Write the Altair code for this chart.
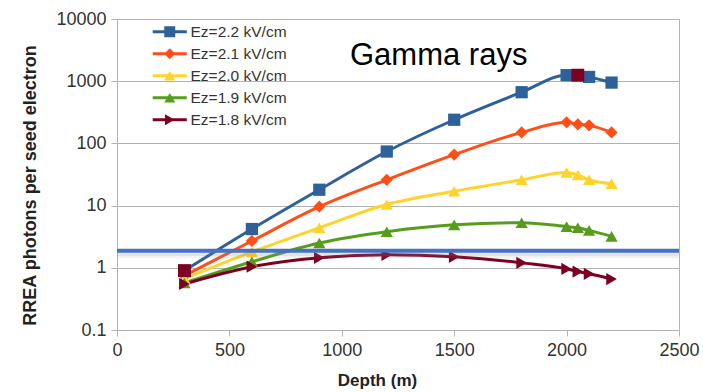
import altair as alt
import pandas as pd

depth = [300, 600, 900, 1200, 1500, 1800, 2000, 2050, 2100, 2200]
series_names = ["Ez=2.2 kV/cm", "Ez=2.1 kV/cm", "Ez=2.0 kV/cm", "Ez=1.9 kV/cm", "Ez=1.8 kV/cm"]
ez22 = [0.9, 4.2, 18, 74, 240, 665, 1250, 1250, 1170, 950]
ez21 = [0.75, 2.7, 9.6, 26, 66, 150, 218, 203, 195, 150]
ez20 = [0.67, 1.8, 4.4, 10.4, 17, 26, 34, 31, 26, 22.5]
ez19 = [0.57, 1.25, 2.5, 3.8, 4.9, 5.3, 4.6, 4.4, 4.0, 3.2]
ez18 = [0.55, 1.04, 1.45, 1.62, 1.5, 1.2, 0.96, 0.87, 0.8, 0.66]
all_values = [ez22, ez21, ez20, ez19, ez18]
colors = ["#2e6099", "#ff4f17", "#ffd42a", "#579d1c", "#7e0021"]
shapes = ["square", "diamond", "triangle-up", "triangle-up", "triangle-right"]
highlight_series = "Ez=2.2 kV/cm"
highlight_depths = [300, 2050]
highlight_color = "#7e0021"
threshold = 1.88
x_ticks = [0, 500, 1000, 1500, 2000, 2500]
y_ticks = [0.1, 1, 10, 100, 1000, 10000]

rows = []
for i, (name, vals) in enumerate(zip(series_names, all_values)):
    for d, v in zip(depth, vals):
        rows.append({"series": name, "series_b": name, "depth": d, "value": v})
df = pd.DataFrame(rows)
hl = df[(df.series == highlight_series) & (df.depth.isin(highlight_depths))]

FONT = "Liberation Sans"

x_enc = alt.X("depth:Q", scale=alt.Scale(domain=[0, 2500], nice=False),
              axis=alt.Axis(values=x_ticks, format="d", title="Depth (m)", grid=False,
                            labelFlush=False,
                            titleX=260, titleY=50, titleBaseline="middle",
                            titleFontSize=17, titleFontWeight="bold"))
y_enc = alt.Y("value:Q", scale=alt.Scale(type="log", domain=[0.1, 10000], nice=False),
              axis=alt.Axis(values=y_ticks, format="~g", title="RREA photons per seed electron",
                            labelFlush=False,
                            titleX=-87, titleY=166, titleBaseline="middle", titleAlign="center",
                            titleFontSize=18, titleFontWeight="bold"))

common_legend = dict(orient="none", title=None, direction="vertical", rowPadding=5, padding=0,
                     labelFontSize=15.5, labelColor="#333333", labelFont=FONT,
                     legendX=45, legendY=5, symbolSize=121, labelOffset=13)

line_legend = alt.Legend(symbolType="M-3.1,0L3.1,0", symbolStrokeWidth=3, zindex=0,
                         **common_legend)
shape_legend = alt.Legend(symbolStrokeWidth=0, labelOpacity=0, zindex=1, **common_legend)

base = alt.Chart(df)

lines = base.mark_line(strokeWidth=3, interpolate="monotone").encode(
    x=x_enc, y=y_enc,
    color=alt.Color("series:N", scale=alt.Scale(domain=series_names, range=colors),
                    legend=line_legend, sort=series_names),
    order="depth:Q",
)
points = base.mark_point(filled=True, opacity=1, size=150, strokeWidth=0).encode(
    x="depth:Q", y="value:Q",
    fill=alt.Fill("series_b:N", scale=alt.Scale(domain=series_names, range=colors),
                  legend=shape_legend, sort=series_names),
    shape=alt.Shape("series_b:N", scale=alt.Scale(domain=series_names, range=shapes),
                    legend=shape_legend, sort=series_names),
)
hl_points = alt.Chart(hl).mark_point(filled=True, opacity=1, size=165, shape="square",
                                     color=highlight_color, strokeWidth=0).encode(x="depth:Q", y="value:Q")

thr_df = pd.DataFrame({"value": [threshold]})
shadow2 = alt.Chart(thr_df).mark_rule(color="#888888", strokeWidth=3, opacity=0.12, yOffset=6).encode(y="value:Q")
shadow = alt.Chart(thr_df).mark_rule(color="#888888", strokeWidth=4, opacity=0.22, yOffset=3).encode(y="value:Q")
rule = alt.Chart(thr_df).mark_rule(color="#4472c4", strokeWidth=4).encode(y="value:Q")

title_text = alt.Chart(pd.DataFrame({"t": ["Gamma rays"]})).mark_text(
    align="left", baseline="alphabetic", fontSize=31, font=FONT, color="black"
).encode(x=alt.value(233), y=alt.value(46), text="t:N")

chart = alt.layer(lines, points, hl_points, shadow2, shadow, rule, title_text).resolve_scale(
    color="independent", fill="independent", shape="independent"
).properties(
    width=562, height=311,
    autosize=alt.AutoSizeParams(type="none"),
    padding={"left": 117, "top": 19, "right": 24, "bottom": 62},
).configure_view(
    stroke="#b3b3b3", strokeWidth=1
).configure_axis(
    labelFont=FONT, titleFont=FONT, labelFontSize=18, labelColor="#333333",
    titleColor="#222222", domainColor="#b3b3b3", tickColor="#b3b3b3",
    gridColor="#b3b3b3", tickSize=6, labelPadding=5,
)

chart.save("out.html", embed_options={"renderer": "svg", "actions": False})
